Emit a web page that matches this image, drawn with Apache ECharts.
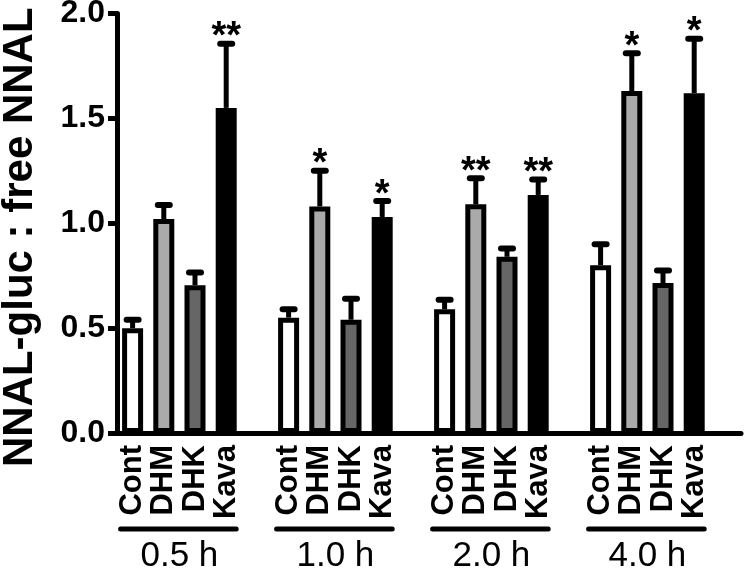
<!DOCTYPE html>
<html>
<head>
<meta charset="utf-8">
<script src="https://cdn.jsdelivr.net/npm/echarts@6/dist/echarts.min.js"></script>
<style>
html,body{margin:0;padding:0;background:#fff;}
#chart{width:747px;height:575px;}
</style>
</head>
<body>
<div id="chart"></div>
<script>
// ---- data ----
var groups = ['0.5 h', '1.0 h', '2.0 h', '4.0 h'];
var treatments = ['Cont', 'DHM', 'DHK', 'Kava'];
var contMean = [0.50, 0.55, 0.59, 0.80];
var contErr  = [0.04, 0.04, 0.045, 0.10];
var dhmMean  = [1.02, 1.08, 1.09, 1.63];
var dhmErr   = [0.067, 0.17, 0.124, 0.18];
var dhkMean  = [0.705, 0.54, 0.84, 0.715];
var dhkErr   = [0.06, 0.10, 0.04, 0.06];
var kavaMean = [1.55, 1.03, 1.135, 1.62];
var kavaErr  = [0.306, 0.076, 0.074, 0.26];
var contSig  = ['', '', '', ''];
var dhmSig   = ['', '*', '**', '*'];
var dhkSig   = ['', '', '', ''];
var kavaSig  = ['**', '*', '**', '*'];

var fills = ['#ffffff', '#aaaaaa', '#666666', '#000000'];
var means = [contMean, dhmMean, dhkMean, kavaMean];
var errs = [contErr, dhmErr, dhkErr, kavaErr];
var sigs = [contSig, dhmSig, dhkSig, kavaSig];

// build slots: 4 bars + 1 gap per group
var slotLabels = [], barData = [], errData = [], sigList = [], lineData = [];
groups.forEach(function (g, gi) {
  treatments.forEach(function (t, ti) {
    var idx = slotLabels.length;
    slotLabels.push(t);
    barData.push({ value: means[ti][gi], itemStyle: { color: fills[ti] } });
    errData.push([idx, means[ti][gi], errs[ti][gi]]);
    sigList.push(sigs[ti][gi]);
  });
  lineData.push([gi * 5, gi * 5 + 3]);
  slotLabels.push('');
  barData.push('-');
});

var FONT = '"Liberation Sans", Arial, sans-serif';
var chart = echarts.init(document.getElementById('chart'), null, { renderer: 'canvas' });
var option = {
  backgroundColor: '#ffffff',
  animation: false,
  grid: { left: 117, right: 6, top: 13.5, bottom: 142, containLabel: false, outerBoundsMode: 'none' },
  xAxis: [{
    type: 'category',
    data: slotLabels,
    axisLine: { show: true, lineStyle: { color: '#000', width: 5, cap: 'round' } },
    axisTick: { show: false },
    axisLabel: {
      interval: 0, rotate: 90, margin: 12, hideOverlap: false,
      color: '#000', fontFamily: FONT,
      fontWeight: 'bold', fontSize: 31
    }
  }, {
    type: 'value', min: 0, max: 20, interval: 1,
    position: 'bottom', offset: 106,
    axisLine: { show: false }, axisTick: { show: false }, splitLine: { show: false },
    axisLabel: {
      margin: 0, color: '#000', fontFamily: FONT, hideOverlap: false,
      fontSize: 35,
      formatter: function (v) {
        var r = Math.round(v);
        if (r % 5 === 2) return groups[(r - 2) / 5];
        return '';
      }
    }
  }],
  yAxis: {
    type: 'value', min: 0, max: 2, interval: 0.5,
    name: 'NNAL-gluc : free NNAL', nameLocation: 'middle', nameRotate: 90, nameGap: 76,
    nameTextStyle: { color: '#000', fontFamily: FONT, fontWeight: 'bold', fontSize: 42, padding: [0, 28, 0, 0] },
    axisLine: { show: true, lineStyle: { color: '#000', width: 5, cap: 'round' } },
    axisTick: { show: true, length: 9, lineStyle: { color: '#000', width: 5 } },
    splitLine: { show: false },
    axisLabel: {
      margin: 12, color: '#000', fontFamily: FONT,
      fontWeight: 'bold', fontSize: 32,
      formatter: function (v) { return v.toFixed(1); }
    }
  },
  series: [{
    type: 'bar',
    xAxisIndex: 0,
    data: barData,
    barWidth: 21,
    itemStyle: { borderColor: '#000', borderWidth: 5 },
    z: 2
  }, {
    type: 'custom',
    xAxisIndex: 0,
    data: errData,
    z: 3,
    clip: false,
    renderItem: function (params, api) {
      var x = api.value(0), m = api.value(1), e = api.value(2);
      var top = api.coord([x, m]);
      var cap = api.coord([x, m + e]);
      var children = [{
        type: 'line',
        shape: { x1: top[0], y1: top[1], x2: cap[0], y2: cap[1] },
        style: { stroke: '#000', lineWidth: 5 }
      }, {
        type: 'line',
        shape: { x1: cap[0] - 6, y1: cap[1], x2: cap[0] + 6, y2: cap[1] },
        style: { stroke: '#000', lineWidth: 6, lineCap: 'round' }
      }];
      var s = sigList[params.dataIndex];
      if (s) {
        children.push({
          type: 'text',
          style: {
            text: s, x: cap[0], y: cap[1] - 6,
            align: 'center', verticalAlign: 'middle',
            fill: '#000', font: 'bold 38px ' + FONT
          }
        });
      }
      return { type: 'group', children: children };
    }
  }, {
    type: 'custom',
    xAxisIndex: 0,
    data: lineData,
    clip: false,
    z: 3,
    renderItem: function (params, api) {
      var a = api.coord([api.value(0), 0]);
      var b = api.coord([api.value(1), 0]);
      var y = a[1] + 96;
      return {
        type: 'line',
        shape: { x1: a[0] - 12, y1: y, x2: b[0] + 10, y2: y },
        style: { stroke: '#000', lineWidth: 5, lineCap: 'round' }
      };
    }
  }]
};
chart.setOption(option);
</script>
</body>
</html>
